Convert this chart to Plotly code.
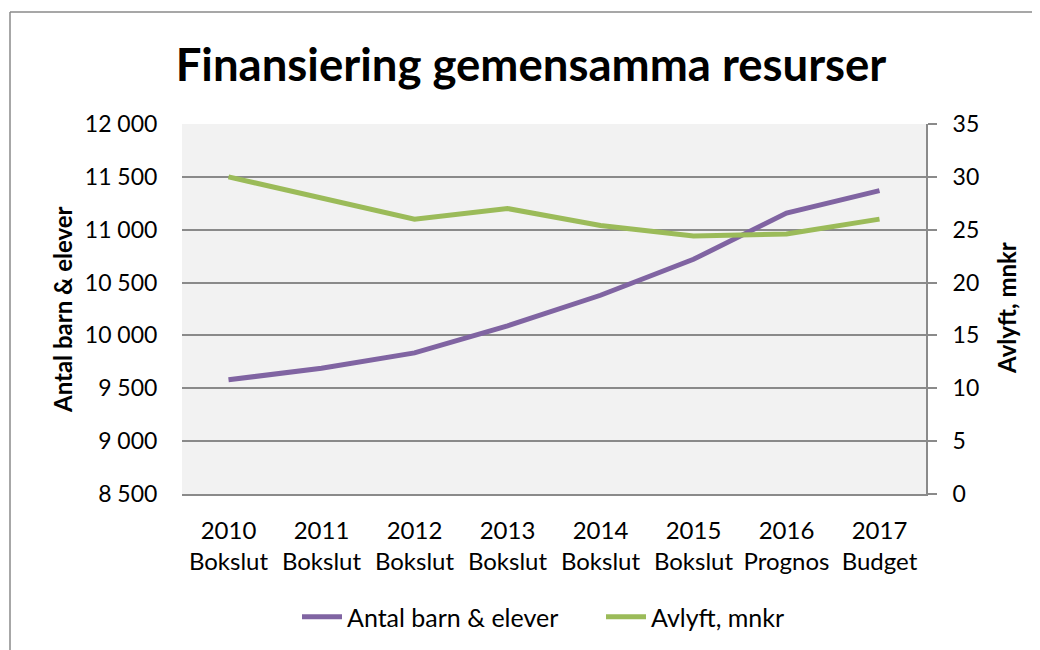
import plotly.graph_objects as go

years = ["2010", "2011", "2012", "2013", "2014", "2015", "2016", "2017"]
kinds = ["Bokslut", "Bokslut", "Bokslut", "Bokslut", "Bokslut", "Bokslut", "Prognos", "Budget"]
antal_barn = [9580, 9690, 9835, 10090, 10380, 10720, 11158, 11370]
avlyft = [30.0, 28.0, 26.0, 27.0, 25.4, 24.4, 24.6, 26.0]
left_ticks = [8500, 9000, 9500, 10000, 10500, 11000, 11500, 12000]
left_ticktext = ["8 500", "9 000", "9 500", "10 000", "10 500", "11 000", "11 500", "12 000"]
right_ticks = [0, 5, 10, 15, 20, 25, 30, 35]

categories = [f"{y}<br>{k}" for y, k in zip(years, kinds)]

W, H = 1040, 650
OFF = 8  # page body margin
# reference screen coordinates of the plot area
L, R, T, B = 182, 926, 124, 494
FONT = "Lato, 'Open Sans', sans-serif"
GRID = "#8a8a8a"


def px(x):
    return (x - L) / (R - L)


def py(y):
    return (B - y) / (B - T)


fig = go.Figure()
fig.add_trace(go.Scatter(
    x=categories, y=antal_barn, name="Antal barn & elever", mode="lines",
    line=dict(color="#8064A2", width=5), yaxis="y"))
fig.add_trace(go.Scatter(
    x=categories, y=avlyft, name="Avlyft, mnkr", mode="lines",
    line=dict(color="#9BBB59", width=5), yaxis="y2"))

fig.update_layout(
    width=W, height=H,
    margin=dict(l=L - OFF, r=W - (R - OFF), t=T - OFF, b=H - (B - OFF), pad=0),
    paper_bgcolor="white", plot_bgcolor="#F2F2F2",
    font=dict(family=FONT, color="black", size=23),
    title=dict(text="<b>Finansiering gemensamma resurser</b>",
               x=(531 - OFF) / W, xref="container", xanchor="center",
               y=1 - (65 - OFF) / H, yref="container", yanchor="middle",
               font=dict(size=45.5, family=FONT, color="black")),
    xaxis=dict(type="category", range=[-0.5, 7.5], showgrid=False,
               showline=True, linecolor=GRID, linewidth=2, ticks="",
               ticklabelstandoff=14,
               tickfont=dict(size=24), zeroline=False),
    yaxis=dict(range=[8500, 12000], tickvals=left_ticks, ticktext=left_ticktext,
               showgrid=True, gridcolor=GRID, gridwidth=2, showline=False,
               ticks="outside", ticklen=0, ticklabelstandoff=19,
               zeroline=False, tickfont=dict(size=23)),
    yaxis2=dict(range=[0, 35], tickvals=right_ticks, overlaying="y", side="right",
                showgrid=False, showline=True, linecolor=GRID, linewidth=2,
                ticks="outside", ticklen=9, tickcolor=GRID, tickwidth=2,
                ticklabelstandoff=11, zeroline=False, tickfont=dict(size=23)),
    showlegend=True,
    legend=dict(orientation="h", x=px(297), xanchor="left",
                y=py(617), yanchor="middle",
                font=dict(size=25), bgcolor="rgba(0,0,0,0)", itemwidth=40,
                entrywidth=249, entrywidthmode="pixels",
                traceorder="normal"),
    annotations=[
        dict(text="<b>Antal barn & elever</b>", textangle=-90, xref="paper", yref="paper",
             x=px(62), y=py(310), xanchor="center", yanchor="middle",
             showarrow=False, font=dict(size=24, family=FONT)),
        dict(text="<b>Avlyft, mnkr</b>", textangle=-90, xref="paper", yref="paper",
             x=px(1006), y=py(308), xanchor="center", yanchor="middle",
             showarrow=False, font=dict(size=24, family=FONT)),
    ],
    shapes=[
        dict(type="line", xref="paper", yref="paper",
             x0=px(10), x1=px(1070), y0=py(12), y1=py(12),
             line=dict(color="#8a8a8a", width=1.5)),
        dict(type="line", xref="paper", yref="paper",
             x0=px(10), x1=px(10), y0=py(12), y1=py(680),
             line=dict(color="#8a8a8a", width=1.5)),
    ],
)

fig.write_html("out.html")
